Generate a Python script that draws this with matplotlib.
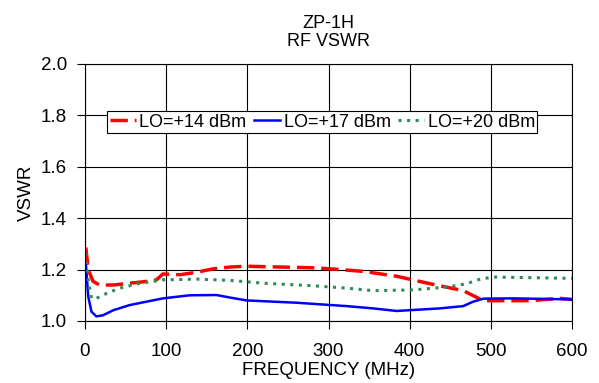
import matplotlib
matplotlib.use('Agg')
import matplotlib.pyplot as plt
from matplotlib import rcParams

rcParams['font.family'] = 'sans-serif'
rcParams['font.sans-serif'] = ['Liberation Sans', 'DejaVu Sans']

# LO=+14 dBm
f14 = [1, 4, 10, 18, 35, 55, 76, 88, 96, 117, 138, 158, 179, 199, 240, 281, 302,
       343, 384, 425, 466, 490, 497, 548, 585, 600]
v14 = [1.286, 1.20, 1.154, 1.14, 1.14, 1.147, 1.154, 1.16, 1.183, 1.18, 1.19, 1.203,
       1.21, 1.213, 1.21, 1.207, 1.203, 1.193, 1.174, 1.145, 1.118, 1.08, 1.079,
       1.079, 1.088, 1.084]
# LO=+17 dBm
f17 = [1, 4, 8, 14, 22, 35, 55, 96, 129, 162, 179, 199, 261, 322, 355, 384, 437,
       466, 478, 491, 528, 600]
v17 = [1.226, 1.095, 1.036, 1.018, 1.022, 1.042, 1.062, 1.088, 1.10, 1.101, 1.091,
       1.08, 1.071, 1.058, 1.049, 1.039, 1.049, 1.058, 1.075, 1.087, 1.088, 1.084]
# LO=+20 dBm
f20 = [1, 4, 8, 14, 27, 43, 68, 96, 138, 179, 220, 281, 322, 355, 404, 446, 470,
       487, 503, 600]
v20 = [1.266, 1.16, 1.088, 1.088, 1.108, 1.128, 1.147, 1.16, 1.163, 1.158, 1.147,
       1.137, 1.128, 1.118, 1.121, 1.132, 1.145, 1.163, 1.171, 1.166]

fig = plt.figure(figsize=(5.99, 3.83), dpi=100)
ax = fig.add_axes([0.1419, 0.1619, 0.8131, 0.671])

ax.plot(f14, v14, color='#ff0000', lw=2.5, dashes=(5, 2), label='LO=+14 dBm')
ax.plot(f17, v17, color='#0000ff', lw=1.8, label='LO=+17 dBm')
ax.plot(f20, v20, color='#2e8b57', lw=2.2, dashes=(1, 1.8), label='LO=+20 dBm')

ax.set_xlim(0, 600)
ax.set_ylim(1.0, 2.0)
ax.set_xticks([0, 100, 200, 300, 400, 500, 600])
ax.set_yticks([1.0, 1.2, 1.4, 1.6, 1.8, 2.0])
ax.set_yticklabels(['1.0', '1.2', '1.4', '1.6', '1.8', '2.0'])
ax.grid(True, color='black', lw=0.8)
ax.tick_params(labelsize=13.5, direction='out', length=6, width=0.8)
ax.tick_params(axis='x', pad=10)
ax.tick_params(axis='y', pad=7)
for s in ax.spines.values():
    s.set_linewidth(0.8)
    s.set_color('black')

ax.set_xlabel('FREQUENCY (MHz)', fontsize=13.5, labelpad=1)
ax.set_ylabel('VSWR', fontsize=13.5, labelpad=4)
ax.set_title('ZP-1H\nRF VSWR', fontsize=13, pad=13, linespacing=1.05)

leg = ax.legend(loc='center', bbox_to_anchor=(0.487, 0.774), ncol=3, fontsize=13,
                frameon=True, fancybox=False, edgecolor='black', framealpha=1,
                handlelength=1.45, handletextpad=0.2, columnspacing=0.4,
                borderpad=0.15, borderaxespad=0)
leg.get_frame().set_linewidth(0.8)

fig.savefig('out.png', dpi=100)
